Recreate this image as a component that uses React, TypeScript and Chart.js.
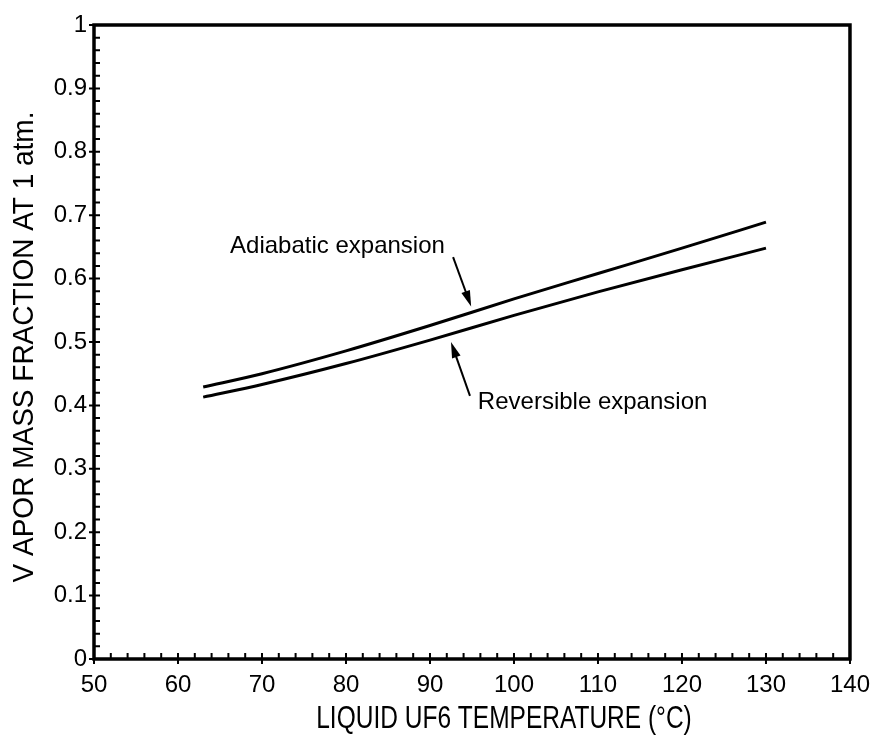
import React, { useEffect, useRef } from "react";
import { Chart, registerables } from "chart.js";

Chart.register(...registerables);

const temps = [63, 70, 80, 90, 100, 110, 120, 130];
const adiabatic = [0.429, 0.45, 0.486, 0.526, 0.568, 0.608, 0.648, 0.689];
const reversible = [0.413, 0.433, 0.466, 0.503, 0.542, 0.579, 0.614, 0.648];

const xTicks = [50, 60, 70, 80, 90, 100, 110, 120, 130, 140];
const yTicks = [0, 0.1, 0.2, 0.3, 0.4, 0.5, 0.6, 0.7, 0.8, 0.9, 1];
const xMinorStep = 2;
const yMinorStep = 0.02;

const xTitle = "LIQUID UF6 TEMPERATURE (°C)";
const yTitle = "V APOR MASS FRACTION AT 1 atm.";

// annotations in data coordinates
const adiabaticLabel = { text: "Adiabatic expansion", x: 66.2, y: 0.651 };
const adiabaticArrow = { from: [92.75, 0.634], to: [94.9, 0.556] };
const reversibleLabel = { text: "Reversible expansion", x: 95.7, y: 0.405 };
const reversibleArrow = { from: [94.76, 0.415], to: [92.5, 0.5] };

const BODY_FONT = '"Liberation Sans", Arial, Helvetica, sans-serif';

const framePlugin = {
  id: "frame",
  afterDraw(chart: any) {
    const { ctx, chartArea } = chart;
    const xs = chart.scales.x;
    const ys = chart.scales.y;
    const { left, right, top, bottom } = chartArea;
    ctx.save();
    ctx.strokeStyle = "#000";
    ctx.fillStyle = "#000";
    // frame
    ctx.lineWidth = 3.5;
    ctx.beginPath();
    ctx.rect(left, top, right - left, bottom - top);
    ctx.stroke();
    // ticks
    ctx.lineWidth = 2;
    ctx.beginPath();
    for (let v = 50; v <= 140 + 1e-9; v += xMinorStep) {
      const px = xs.getPixelForValue(v);
      const major = Math.abs(v / 10 - Math.round(v / 10)) < 1e-6;
      ctx.moveTo(px, bottom + (major ? 5 : 0));
      ctx.lineTo(px, bottom - 6);
    }
    for (let i = 0; i <= 50; i++) {
      const v = i * yMinorStep;
      const py = ys.getPixelForValue(v);
      const major = i % 5 === 0;
      ctx.moveTo(left - (major ? 5 : 0), py);
      ctx.lineTo(left + 6, py);
    }
    ctx.stroke();

    // annotations
    ctx.font = `24px ${BODY_FONT}`;
    ctx.textBaseline = "middle";
    ctx.textAlign = "left";
    ctx.fillText(adiabaticLabel.text, xs.getPixelForValue(adiabaticLabel.x), ys.getPixelForValue(adiabaticLabel.y));
    ctx.fillText(reversibleLabel.text, xs.getPixelForValue(reversibleLabel.x), ys.getPixelForValue(reversibleLabel.y));

    const arrow = (a: any) => {
      const x1 = xs.getPixelForValue(a.from[0]);
      const y1 = ys.getPixelForValue(a.from[1]);
      const x2 = xs.getPixelForValue(a.to[0]);
      const y2 = ys.getPixelForValue(a.to[1]);
      const ang = Math.atan2(y2 - y1, x2 - x1);
      const hl = 16;
      const hw = 4.5;
      ctx.lineWidth = 2;
      ctx.beginPath();
      ctx.moveTo(x1, y1);
      ctx.lineTo(x2 - Math.cos(ang) * hl * 0.8, y2 - Math.sin(ang) * hl * 0.8);
      ctx.stroke();
      ctx.beginPath();
      ctx.moveTo(x2, y2);
      ctx.lineTo(x2 - Math.cos(ang) * hl - Math.sin(ang) * hw, y2 - Math.sin(ang) * hl + Math.cos(ang) * hw);
      ctx.lineTo(x2 - Math.cos(ang) * hl + Math.sin(ang) * hw, y2 - Math.sin(ang) * hl - Math.cos(ang) * hw);
      ctx.closePath();
      ctx.fill();
    };
    arrow(adiabaticArrow);
    arrow(reversibleArrow);

    // x-axis title (tall, condensed look)
    ctx.save();
    ctx.font = `24.5px ${BODY_FONT}`;
    ctx.textAlign = "center";
    ctx.textBaseline = "alphabetic";
    ctx.translate((left + right) / 2 + 32, bottom + 69);
    ctx.scale(1, 1.28);
    ctx.fillText(xTitle, 0, 0);
    ctx.restore();

    // y-axis title
    ctx.save();
    ctx.font = `28px ${BODY_FONT}`;
    ctx.textAlign = "center";
    ctx.textBaseline = "middle";
    ctx.translate(25, (top + bottom) / 2 + 5);
    ctx.rotate(-Math.PI / 2);
    ctx.scale(1, 1.08);
    ctx.fillText(yTitle, 0, 0);
    ctx.restore();

    ctx.restore();
  },
};

export default function App() {
  const ref = useRef<HTMLCanvasElement | null>(null);
  useEffect(() => {
    if (!ref.current) return;
    const fmt = (v: any) => String(Number(Number(v).toFixed(1)));
    const chart = new Chart(ref.current, {
      type: "line",
      data: {
        datasets: [
          {
            label: "Adiabatic expansion",
            data: temps.map((t, i) => ({ x: t, y: adiabatic[i] })),
            borderColor: "#000",
            borderWidth: 3,
            pointRadius: 0,
            cubicInterpolationMode: "monotone",
          },
          {
            label: "Reversible expansion",
            data: temps.map((t, i) => ({ x: t, y: reversible[i] })),
            borderColor: "#000",
            borderWidth: 3,
            pointRadius: 0,
            cubicInterpolationMode: "monotone",
          },
        ],
      },
      options: {
        animation: false,
        responsive: true,
        maintainAspectRatio: false,
        layout: { padding: { top: 25, right: 28, left: 0, bottom: 0 } },
        plugins: { legend: { display: false }, tooltip: { enabled: false } },
        scales: {
          x: {
            type: "linear",
            min: 50,
            max: 140,
            afterBuildTicks: (s: any) => {
              s.ticks = xTicks.map((v) => ({ value: v }));
            },
            afterFit: (s: any) => {
              s.height = 81;
            },
            grid: { display: false, drawTicks: false },
            border: { display: false },
            ticks: {
              color: "#000",
              font: { family: BODY_FONT, size: 24 },
              padding: 12,
              maxRotation: 0,
              autoSkip: false,
              callback: fmt,
            },
          },
          y: {
            type: "linear",
            min: 0,
            max: 1,
            afterBuildTicks: (s: any) => {
              s.ticks = yTicks.map((v) => ({ value: v }));
            },
            afterFit: (s: any) => {
              s.width = 94;
            },
            grid: { display: false, drawTicks: false },
            border: { display: false },
            ticks: {
              color: "#000",
              font: { family: BODY_FONT, size: 24 },
              padding: 7,
              autoSkip: false,
              callback: fmt,
            },
          },
        },
      },
      plugins: [framePlugin],
    } as any);
    return () => chart.destroy();
  }, []);
  return (
    <div style={{ position: "absolute", left: 0, top: 0, width: 882, height: 740, background: "#fff" }}>
      <canvas ref={ref} />
    </div>
  );
}
